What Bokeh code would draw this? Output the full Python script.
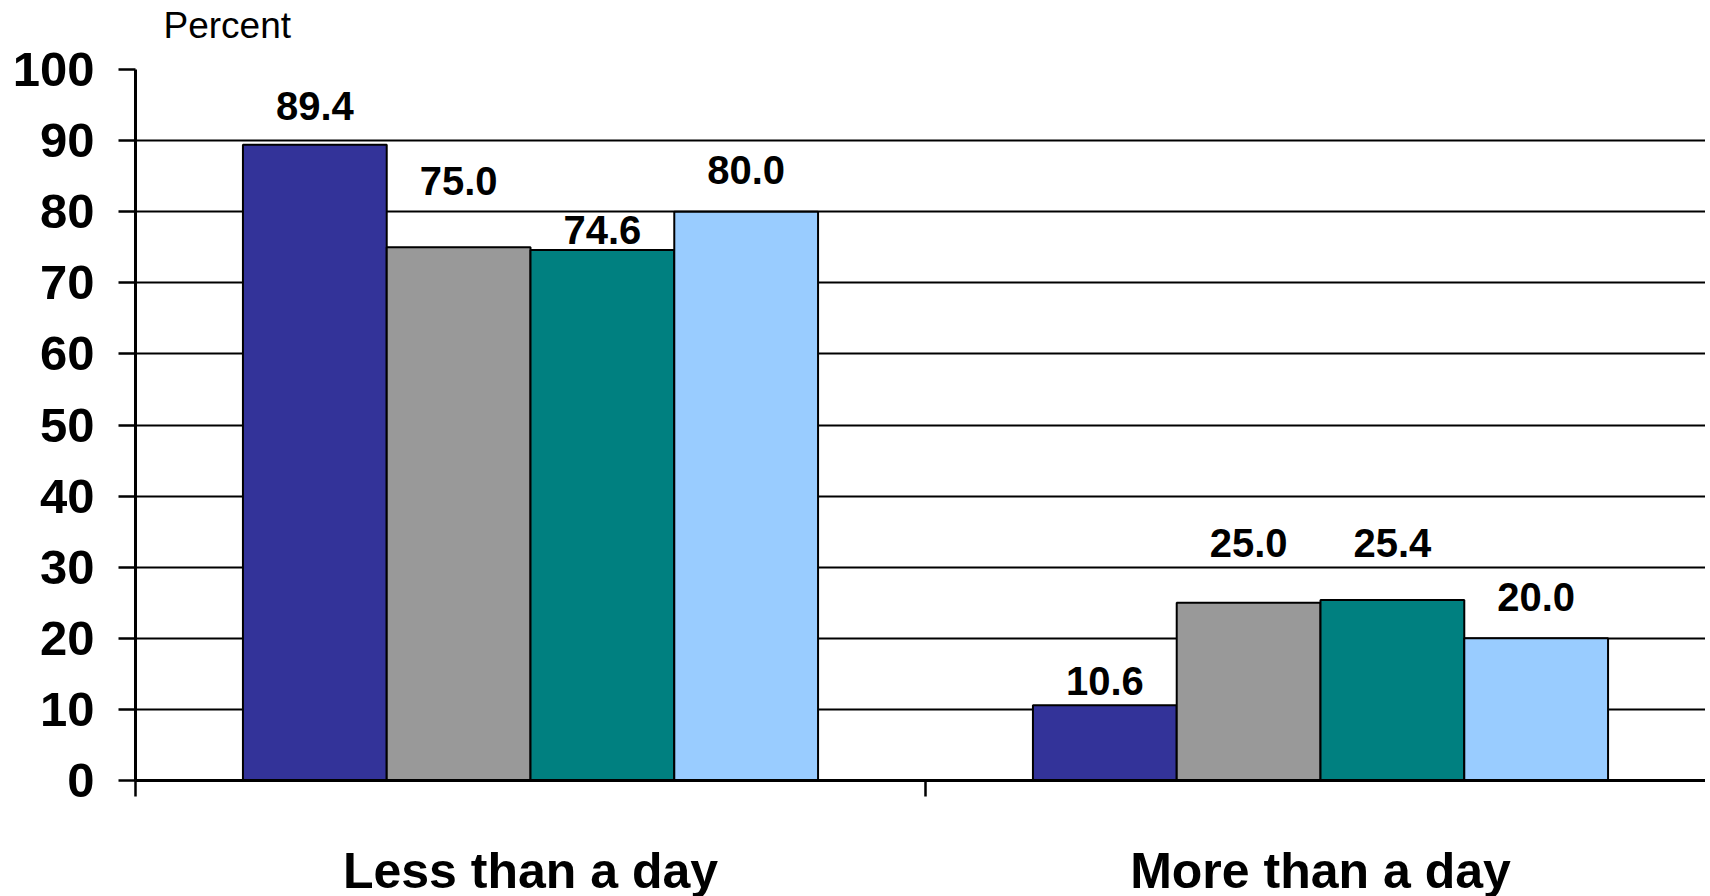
from bokeh.plotting import figure
from bokeh.models import Range1d, FixedTicker, Title
from bokeh.core.properties import value
from bokeh.embed import file_html
from bokeh.resources import INLINE

# ---------------- data ----------------
categories = ["Less than a day", "More than a day"]
series_a = [89.4, 10.6]
series_b = [75.0, 25.0]
series_c = [74.6, 25.4]
series_d = [80.0, 20.0]
y_ticks = [0, 10, 20, 30, 40, 50, 60, 70, 80, 90, 100]
y_axis_title = "Percent"

# ---------------- styles ----------------
series_values = [series_a, series_b, series_c, series_d]
series_colors = ["#333399", "#999999", "#008080", "#99CCFF"]
# vertical gap (px) between label and bar top, per series / category
label_gap_px = [[39, 24], [66, 60], [20, 57], [42, 41]]

FONT = "Liberation Sans"
frame_w = 1570
frame_h = 711
cat_px = 790  # pixel width of one category band
bar_w = 0.182

p = figure(
    frame_width=frame_w, frame_height=frame_h,
    x_range=Range1d(0, frame_w / cat_px), y_range=Range1d(0, 100),
    output_backend="svg", toolbar_location=None,
    min_border_left=135, min_border_right=0, min_border_top=69, min_border_bottom=114,
)
p.outline_line_color = None
p.background_fill_color = "white"
p.border_fill_color = "white"

# small spacer panel between the frame and the "Percent" caption
p.add_layout(Title(text=" ", text_font=FONT, text_font_size="1px", standoff=21), "above")
p.add_layout(Title(text=y_axis_title, align="left", offset=28, standoff=0,
                   text_font=FONT, text_font_size="37px", text_font_style="normal",
                   text_color="black"), "above")

offsets = [-1.5, -0.5, 0.5, 1.5]
for vals, col, off, gaps in zip(series_values, series_colors, offsets, label_gap_px):
    xs = [i + 0.5 + off * bar_w for i in range(len(categories))]
    p.vbar(x=xs, top=vals, bottom=0, width=bar_w, fill_color=col,
           line_color="black", line_width=2)
    p.text(x=xs, y=vals, text=[f"{v:.1f}" for v in vals],
           y_offset=[-g for g in gaps],
           text_align="center", text_baseline="alphabetic",
           text_font=value(FONT), text_font_style="bold",
           text_font_size="40px", text_color="black")

# grid
p.xgrid.visible = False
p.ygrid.ticker = FixedTicker(ticks=y_ticks)
p.ygrid.grid_line_color = "black"
p.ygrid.grid_line_width = 2
p.ygrid.level = "underlay"

# y axis
ya = p.yaxis[0]
ya.ticker = FixedTicker(ticks=y_ticks)
ya.axis_line_color = "black"
ya.axis_line_width = 3
ya.major_tick_line_color = "black"
ya.major_tick_line_width = 2.5
ya.major_tick_out = 17
ya.major_tick_in = 0
ya.minor_tick_line_color = None
ya.major_label_standoff = 24
ya.major_label_text_font = FONT
ya.major_label_text_font_style = "bold"
ya.major_label_text_font_size = "49px"
ya.major_label_text_color = "black"

# x axis
xa = p.xaxis[0]
xa.ticker = FixedTicker(ticks=[i + 0.5 for i in range(len(categories))],
                        minor_ticks=list(range(len(categories) + 1)))
xa.major_label_overrides = {i + 0.5: c for i, c in enumerate(categories)}
xa.axis_line_color = "black"
xa.axis_line_width = 3
xa.major_tick_line_color = None
xa.major_tick_out = 0
xa.major_tick_in = 0
xa.minor_tick_line_color = "black"
xa.minor_tick_line_width = 2.5
xa.minor_tick_out = 16
xa.minor_tick_in = 0
xa.major_label_standoff = 46
xa.major_label_text_font = FONT
xa.major_label_text_font_style = "bold"
xa.major_label_text_font_size = "50px"
xa.major_label_text_color = "black"

open("out.html", "w").write(file_html(p, INLINE))
